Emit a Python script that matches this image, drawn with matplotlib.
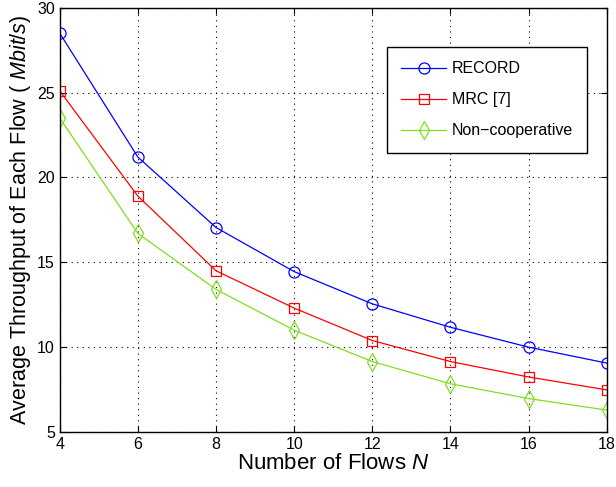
import numpy as np
import matplotlib
matplotlib.use("Agg")
from matplotlib import pyplot as plt

plt.rcParams['font.family'] = ['Liberation Sans', 'DejaVu Sans']
plt.rcParams['mathtext.fontset'] = 'custom'
plt.rcParams['mathtext.it'] = 'Liberation Sans:italic'
plt.rcParams['mathtext.rm'] = 'Liberation Sans'

# data
flows = [4, 6, 8, 10, 12, 14, 16, 18]
record = [28.5, 21.2, 17.05, 14.45, 12.55, 11.17, 10.0, 9.06]
mrc = [25.1, 18.9, 14.5, 12.3, 10.39, 9.15, 8.24, 7.48]
noncoop = [23.5, 16.7, 13.4, 11.0, 9.15, 7.84, 6.97, 6.29]

fig = plt.figure(figsize=(6.16, 4.87), dpi=100)
ax = fig.add_axes([0.097, 0.113, 0.888, 0.871])

ax.plot(flows, record, color='#0000ff', lw=0.9, marker='o', ms=8,
        mfc='none', mec='#0000ff', mew=0.9, label='RECORD')
ax.plot(flows, mrc, color='#ff0000', lw=0.9, marker='s', ms=7,
        mfc='none', mec='#ff0000', mew=0.9, label='MRC [7]')
ax.plot(flows, noncoop, color='#7fdf1f', lw=0.9, marker='d', ms=9,
        mfc='none', mec='#7fdf1f', mew=0.9, label='Non\u2212cooperative')

ax.set_xlim(4, 18)
ax.set_ylim(5, 30)
ax.set_xticks(flows)
ax.set_yticks([5, 10, 15, 20, 25, 30])
ax.tick_params(direction='in', labelsize=11.5, length=4, top=True, right=True)
ax.grid(True, linestyle=(0, (1, 4)), color='black', lw=0.8)
for s in ax.spines.values():
    s.set_linewidth(1.0)

ax.set_xlabel('Number of Flows $N$', fontsize=16, labelpad=1)
ax.set_ylabel('Average Throughput of Each Flow ( $Mbit/s$)', fontsize=15.5, labelpad=3)

leg = ax.legend(loc='upper left', bbox_to_anchor=(0.598, 0.908), fontsize=11.5,
                fancybox=False, framealpha=1, edgecolor='black',
                handlelength=2.8, handletextpad=0.35, labelspacing=1.0,
                borderpad=0.9, borderaxespad=0)
leg.get_frame().set_linewidth(1.0)

plt.savefig('out.png', dpi=100)
